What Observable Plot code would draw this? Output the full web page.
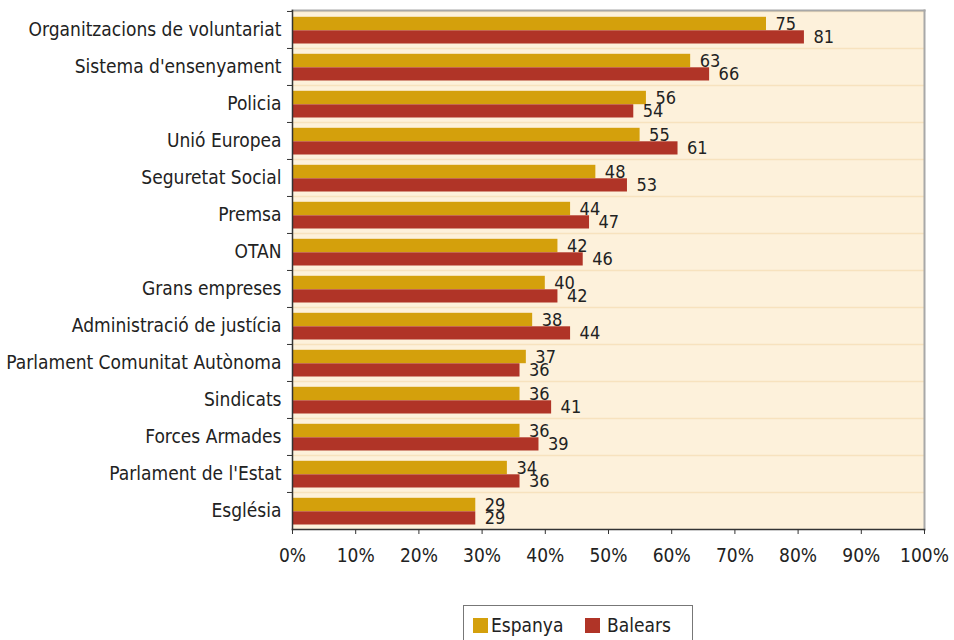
<!DOCTYPE html>
<html>
<head>
<meta charset="utf-8">
<script src="https://cdn.jsdelivr.net/npm/d3@7"></script>
<script src="https://cdn.jsdelivr.net/npm/@observablehq/plot@0.6"></script>
<style>
  body { margin: 0; background: #fff; font-family: "DejaVu Sans Condensed", sans-serif; }
  #chart { width: 954px; }
  .legend { position: absolute; left: 463px; top: 605px; width: 230px; height: 40px; border: 1.5px solid #777; box-sizing: border-box; font-size: 19px; color: #222; }
  .legend span.sw { position: absolute; top: 12px; width: 15px; height: 15px; }
  .legend span.lb { position: absolute; top: 8px; line-height: 22px; }
</style>
</head>
<body>
<div id="chart"></div>
<div class="legend">
  <span class="sw" style="left:9px;background:#D4A00C"></span><span class="lb" style="left:27px">Espanya</span>
  <span class="sw" style="left:121px;background:#B03427"></span><span class="lb" style="left:143px">Balears</span>
</div>
<script>
const categories = [
  "Organitzacions de voluntariat",
  "Sistema d'ensenyament",
  "Policia",
  "Unió Europea",
  "Seguretat Social",
  "Premsa",
  "OTAN",
  "Grans empreses",
  "Administració de justícia",
  "Parlament Comunitat Autònoma",
  "Sindicats",
  "Forces Armades",
  "Parlament de l'Estat",
  "Església"
];
const espanya = [75, 63, 56, 55, 48, 44, 42, 40, 38, 37, 36, 36, 34, 29];
const balears = [81, 66, 54, 61, 53, 47, 46, 42, 44, 36, 41, 39, 36, 29];
const xTicks = [0, 10, 20, 30, 40, 50, 60, 70, 80, 90, 100];

const colEsp = "#D4A00C", colBal = "#B03427";
const bg = "#FDF1DB", grid = "#F7E2BE";

const dataEsp = categories.map((c, i) => ({cat: c, v: espanya[i]}));
const dataBal = categories.map((c, i) => ({cat: c, v: balears[i]}));

const width = 954, height = 580, mt = 10, mb = 51, ml = 292, mr = 30;
const bw = (height - mt - mb) / categories.length;

const chart = Plot.plot({
  width, height,
  marginTop: mt, marginBottom: mb, marginLeft: ml, marginRight: mr,
  style: {fontFamily: "DejaVu Sans Condensed, sans-serif", fontSize: "18px", color: "#222", background: "#fff"},
  x: {domain: [0, 100]},
  y: {domain: categories, padding: 0},
  marks: [
    Plot.frame({fill: bg, stroke: null}),
    Plot.gridY({stroke: grid, strokeOpacity: 1, strokeWidth: 1.5, dy: -bw / 2}),
    Plot.barX(dataEsp, {x: "v", y: "cat", fill: colEsp, insetTop: 5.8, insetBottom: 17.8}),
    Plot.barX(dataBal, {x: "v", y: "cat", fill: colBal, insetTop: 19.3, insetBottom: 4.5}),
    Plot.text(dataEsp, {x: "v", y: "cat", text: d => String(d.v), dx: 9, dy: -6, textAnchor: "start", fill: "#222"}),
    Plot.text(dataBal, {x: "v", y: "cat", text: d => String(d.v), dx: 9, dy: 7.5, textAnchor: "start", fill: "#222"}),
    Plot.frame({anchor: "top", stroke: "#A8A8A8", strokeWidth: 2}),
    Plot.frame({anchor: "right", stroke: "#A8A8A8", strokeWidth: 2}),
    Plot.axisY({tickSize: 0, tickPadding: 11, label: null, fontSize: 19}),
    Plot.axisY({text: null, tickSize: 5, dy: -bw / 2, stroke: "#333", label: null}),
    Plot.frame({anchor: "left", stroke: "#333", strokeWidth: 1.5}),
    Plot.frame({anchor: "bottom", stroke: "#333", strokeWidth: 1.5}),
    Plot.axisX({ticks: xTicks, tickSize: 5, tickPadding: 14, tickFormat: d => d + "%", label: null, fontSize: 19, stroke: "#333"})
  ]
});
document.getElementById("chart").appendChild(chart);
</script>
</body>
</html>
